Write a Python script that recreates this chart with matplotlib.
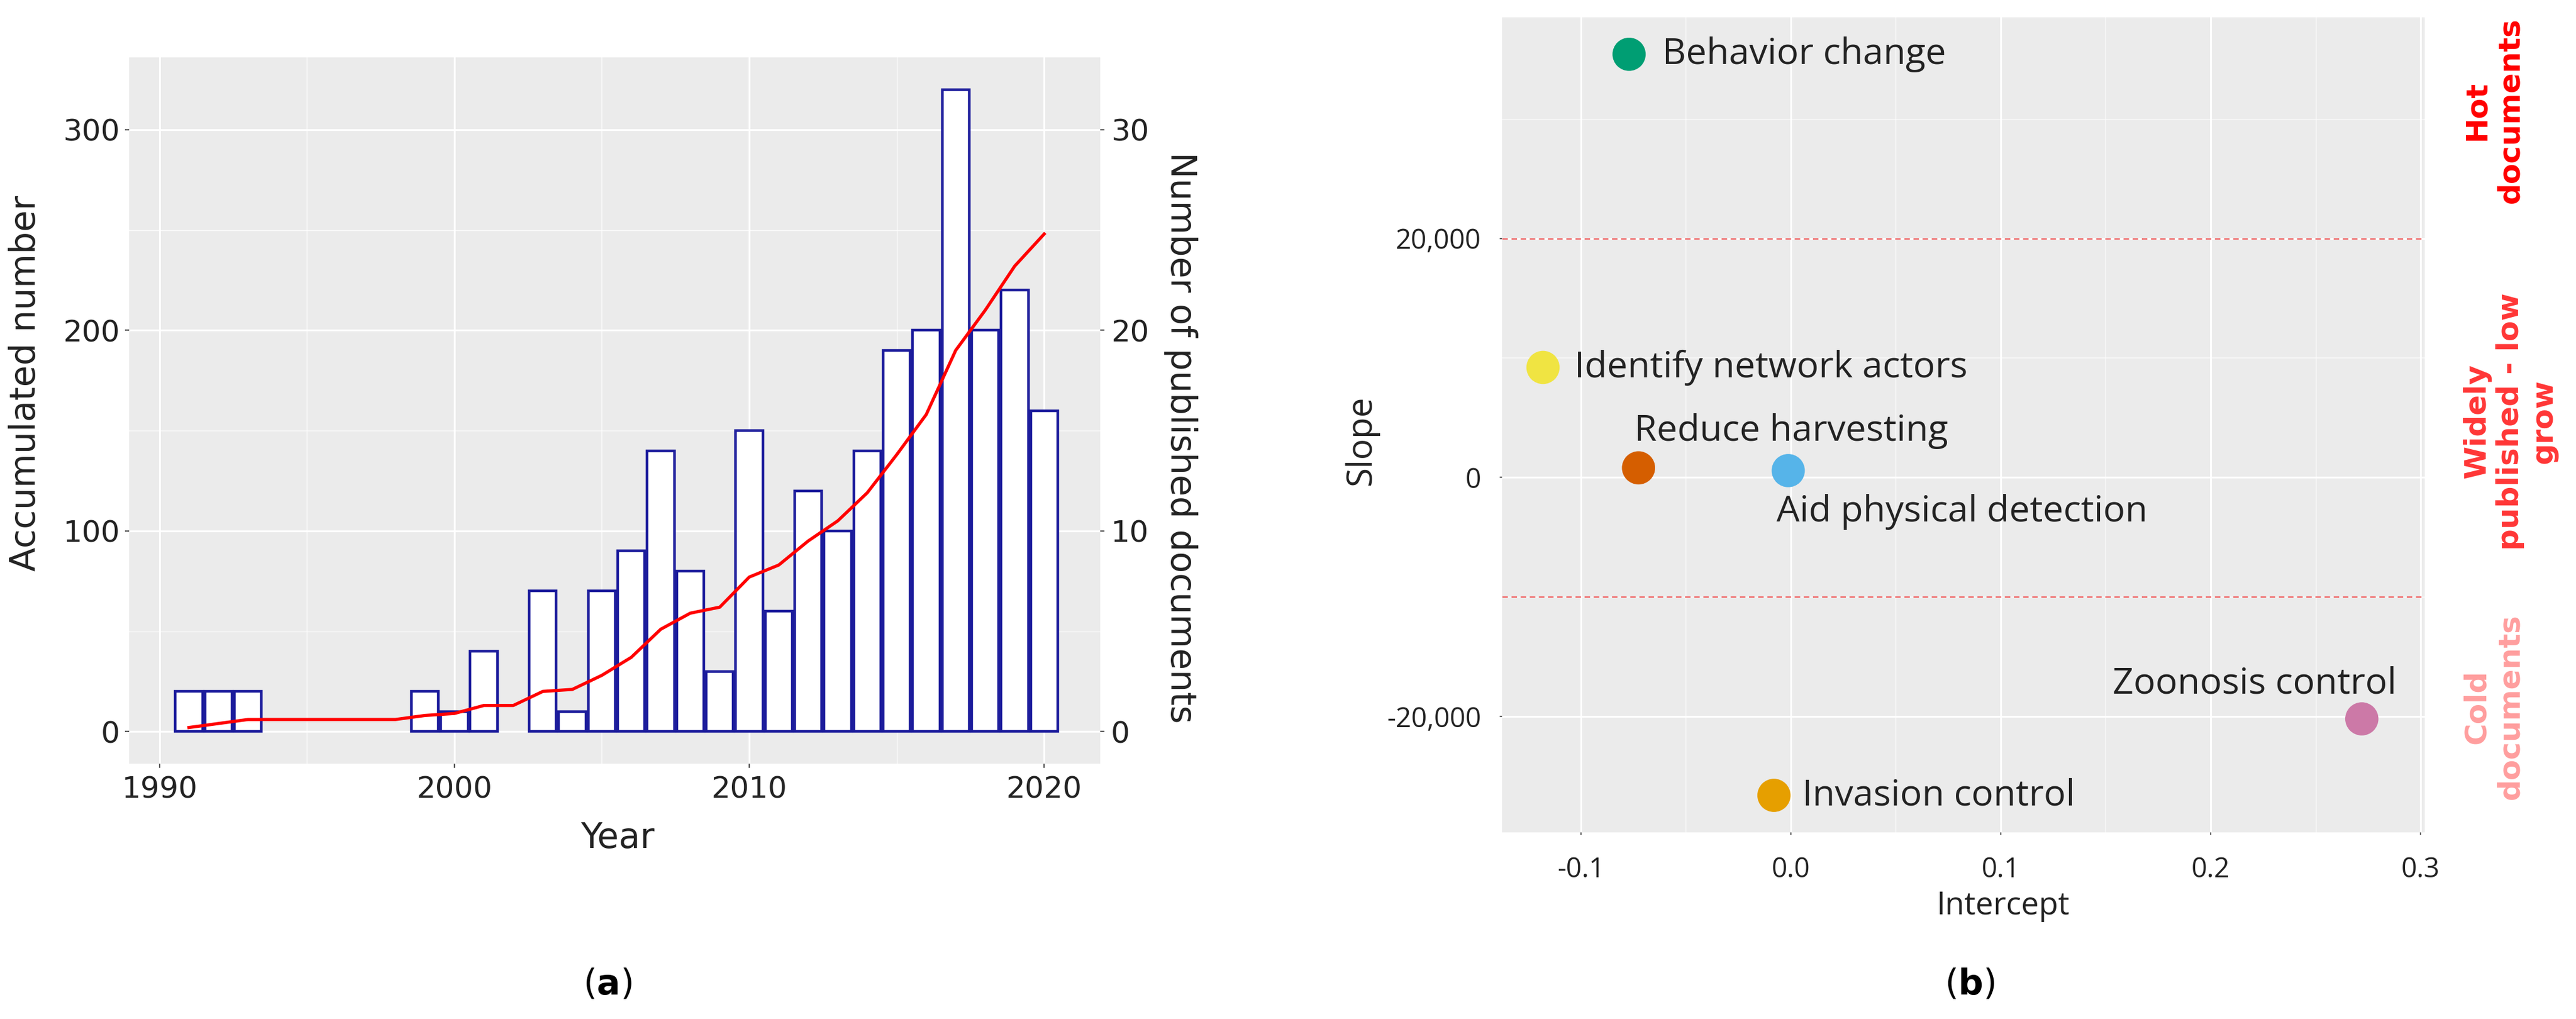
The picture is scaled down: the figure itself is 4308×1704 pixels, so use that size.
import numpy as np
import matplotlib
matplotlib.use('Agg')
import matplotlib.pyplot as plt
from matplotlib.ticker import MultipleLocator
import matplotlib.transforms as mtransforms

# ---------------------------------------------------------------------------
# Data
# ---------------------------------------------------------------------------
# (a) documents published per year
years = list(range(1991, 2021))
docs_per_year = [2, 2, 2, 0, 0, 0, 0, 0, 2, 1, 4, 0, 7, 1, 7, 9, 14, 8, 3, 15,
                 6, 12, 10, 14, 19, 20, 32, 20, 22, 16]

# (b) topic slope vs. intercept
topics = ['Behavior change', 'Identify network actors', 'Reduce harvesting',
          'Aid physical detection', 'Zoonosis control', 'Invasion control']
intercepts = [-0.077, -0.118, -0.0725, -0.0012, 0.272, -0.008]
slopes = [35400, 9200, 800, 570, -20200, -26600]
topic_colors = ['#009E73', '#F0E442', '#D55E00', '#56B4E9', '#CC79A7', '#E69F00']

thresholds = [20000, -10000]
zone_names = ['Hot\ndocuments', 'Widely\npublished - low\ngrow', 'Cold\ndocuments']
zone_colors = ['#FF0000', '#FF3636', '#FF9E9E']

# label placement (offset in points, alignment)
label_place = [(20, 0, 'left'), (19, 0, 'left'), (-2.5, 22, 'left'),
               (-7, -25, 'left'), (21, 21, 'right'), (17, 0, 'left')]
zone_y = [30700, 4700, -19200]
zone_x = [1.0745, 1.0927, 1.0745]

PANEL = '#EBEBEB'
TXT = '#222222'


def style_ggplot(ax):
    ax.set_facecolor(PANEL)
    for sp in ax.spines.values():
        sp.set_visible(False)
    ax.grid(True, which='major', color='white', lw=1.1)
    ax.grid(True, which='minor', color='white', lw=0.5, alpha=0.8)
    ax.set_axisbelow(True)


fig = plt.figure(figsize=(21.54, 8.52), dpi=200)
fig.patch.set_facecolor('white')

# ---------------------------------------------------------------------------
# (a) bars + accumulated line
# ---------------------------------------------------------------------------
ax = fig.add_axes([0.0501, 0.2506, 0.377, 0.693])
ax2 = ax.twinx()
style_ggplot(ax)

yrs = np.array(years)
cnt = np.array(docs_per_year)
keep = cnt > 0
ax.bar(yrs[keep], cnt[keep], width=0.92, color='white', edgecolor='#1C1C9C',
       linewidth=1.6, zorder=2)
ax.set_xlim(1988.97, 2021.9)
ax.set_ylim(-1.6, 33.6)
ax.xaxis.set_major_locator(MultipleLocator(10))
ax.xaxis.set_minor_locator(MultipleLocator(5))
ax.yaxis.set_major_locator(MultipleLocator(10))
ax.yaxis.set_minor_locator(MultipleLocator(5))
ax.yaxis.tick_right()
ax.yaxis.set_label_position('right')
ax.tick_params(axis='both', which='minor', length=0)
ax.tick_params(axis='both', which='major', length=2.5, color='#555555',
               labelsize=18, labelcolor=TXT)
ax.tick_params(axis='x', pad=4.5)
ax.tick_params(axis='y', pad=4)
ax.set_xlabel('Year', fontsize=21, color=TXT)
ax.xaxis.set_label_coords(0.503, -0.1058)
ax.xaxis.label.set_va('center')
ax.set_ylabel('Number of published documents', fontsize=21, color=TXT,
              rotation=-90)
ax.yaxis.set_label_coords(1.0831, 0.4615)
ax.yaxis.label.set_va('center')

accumulated = np.cumsum(cnt)
ax2.plot(yrs, accumulated, color='red', lw=1.9, zorder=5)
ax2.set_ylim(-16, 336)
ax2.yaxis.set_major_locator(MultipleLocator(100))
ax2.yaxis.tick_left()
ax2.yaxis.set_label_position('left')
for sp in ax2.spines.values():
    sp.set_visible(False)
ax2.tick_params(axis='y', length=2.5, color='#555555', labelsize=18,
                labelcolor=TXT, pad=3)
ax2.set_ylabel('Accumulated number', fontsize=21, color=TXT)
ax2.yaxis.set_label_coords(-0.107, 0.539)
ax2.yaxis.label.set_va('center')

# ---------------------------------------------------------------------------
# (b) slope vs intercept
# ---------------------------------------------------------------------------
OS = ['Open Sans', 'DejaVu Sans']
bx = fig.add_axes([0.5831, 0.1831, 0.3582, 0.80])
style_ggplot(bx)
bx.set_xlim(-0.1375, 0.302)
bx.set_ylim(-29700, 38500)
bx.xaxis.set_major_locator(MultipleLocator(0.1))
bx.xaxis.set_minor_locator(MultipleLocator(0.05))
bx.yaxis.set_major_locator(MultipleLocator(20000))
bx.yaxis.set_minor_locator(MultipleLocator(10000))
bx.set_xticks([-0.1, 0.0, 0.1, 0.2, 0.3])
bx.set_xticklabels(['-0.1', '0.0', '0.1', '0.2', '0.3'], family=OS)
bx.set_yticks([-20000, 0, 20000])
bx.set_yticklabels(['-20,000', '0', '20,000'], family=OS)
bx.tick_params(axis='both', which='minor', length=0)
bx.tick_params(axis='both', which='major', length=1.5, color='#666666',
               labelsize=16.5, labelcolor=TXT)
bx.tick_params(axis='x', pad=13)
bx.tick_params(axis='y', pad=11)

for yv in thresholds:
    bx.axhline(yv, color='#F08080', lw=1.1, ls=(0, (3, 2)), zorder=1.5)

bx.scatter(intercepts, slopes, s=400, c=topic_colors, edgecolors='none',
           zorder=4)
for name, xv, yv, (dx, dy, ha) in zip(topics, intercepts, slopes, label_place):
    bx.annotate(name, (xv, yv), xytext=(dx, dy), textcoords='offset points',
                ha=ha, va='center', fontsize=22, color=TXT, family=OS,
                zorder=5)

bx.set_xlabel('Intercept', fontsize=19, color=TXT, family=OS)
bx.xaxis.set_label_coords(0.543, -0.0902)
bx.xaxis.label.set_va('center')
bx.set_ylabel('Slope', fontsize=21, color=TXT, family=OS)
bx.yaxis.set_label_coords(-0.1523, 0.4806)
bx.yaxis.label.set_va('center')

trans = mtransforms.blended_transform_factory(bx.transAxes, bx.transData)
for name, col, xv, yv in zip(zone_names, zone_colors, zone_x, zone_y):
    bx.text(xv, yv, name, transform=trans, rotation=90, ha='center',
            va='center', multialignment='center', fontsize=18,
            fontweight='bold', color=col, clip_on=False)

# panel tags
fig.text(1016 / 4308, 1 - 1646 / 1704, r'($\mathbf{a}$)', fontsize=21,
         ha='center', va='center', color='black')
fig.text(3294 / 4308, 1 - 1646 / 1704, r'($\mathbf{b}$)', fontsize=21,
         ha='center', va='center', color='black')

fig.savefig('out.png', dpi=200, facecolor='white')
